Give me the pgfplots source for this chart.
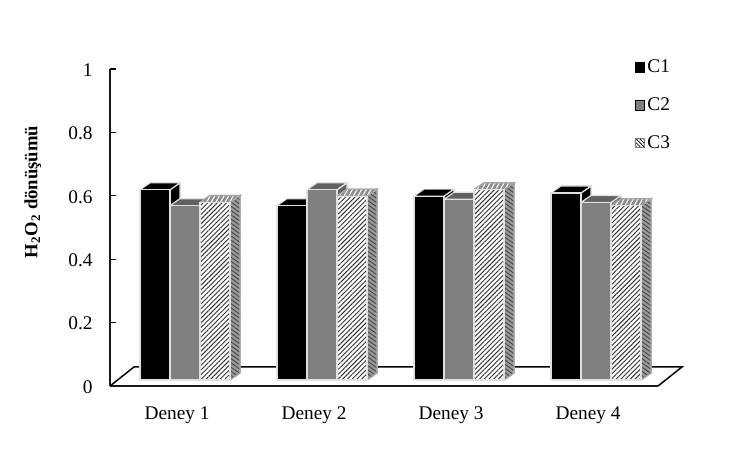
\documentclass[border=0pt]{standalone}
\usepackage{fontspec}
\setmainfont{Liberation Serif}
\usepackage{pgfplots}
\pgfplotsset{compat=1.18}
\usetikzlibrary{patterns.meta}

% depth of the 3D effect and base of the bars, in axis units
\def\barw{0.219}
\def\depx{0.073}
\def\depy{0.022}
\def\basey{0.019}

\tikzset{
  edge/.style={draw=black!12, line width=0.9pt},
  c1front/.style={edge, fill=black},
  c1top/.style={edge, fill=black},
  c1side/.style={edge, fill=black},
  c2front/.style={edge, fill=black!50},
  c2top/.style={edge, fill=black!62},
  c2side/.style={edge, fill=black!62},
  c3front/.style={edge, fill=white, postaction={pattern={Lines[angle=45,distance=2.5pt,line width=0.7pt]}, pattern color=black!80}},
  c3top/.style={edge, draw=black!35, fill=black!45, postaction={pattern={Lines[angle=60,distance=3pt,line width=0.8pt]}, pattern color=white}},
  c3side/.style={edge, draw=black!35, fill=black!40, postaction={pattern={Lines[angle=-35,distance=2.6pt,line width=0.65pt]}, pattern color=black!75}},
}

% #1 left edge of the front face, #2 value, #3 series style prefix
\newcommand{\threedbar}[3]{%
  \pgfmathsetmacro{\xa}{#1}%
  \pgfmathsetmacro{\xb}{#1+\barw}%
  \pgfmathsetmacro{\xc}{#1+\barw+\depx}%
  \pgfmathsetmacro{\xd}{#1+\depx}%
  \pgfmathsetmacro{\yt}{\basey+#2}%
  \pgfmathsetmacro{\yu}{\basey+#2+\depy}%
  \pgfmathsetmacro{\yv}{\basey+\depy}%
  \addplot[forget plot, #3side] coordinates {(\xb,\basey) (\xc,\yv) (\xc,\yu) (\xb,\yt) (\xb,\basey)};
  \addplot[forget plot, #3top] coordinates {(\xa,\yt) (\xb,\yt) (\xc,\yu) (\xd,\yu) (\xa,\yt)};
  \addplot[forget plot, #3front] coordinates {(\xa,\basey) (\xb,\basey) (\xb,\yt) (\xa,\yt) (\xa,\basey)};
}

\begin{document}
\begin{tikzpicture}[x=1pt,y=1pt]
\useasboundingbox (0,0) rectangle (557.25,354);
\begin{axis}[
    at={(82.5pt,64.5pt)},
    anchor=south west,
    scale only axis,
    width=411pt,
    height=237.75pt,
    xmin=0, xmax=4,
    ymin=0, ymax=1,
    clip=false,
    axis lines=left,
    axis line style={-, line width=1.1pt, black!90},
    xtick={0.5,1.5,2.5,3.5},
    xticklabels={Deney 1,Deney 2,Deney 3,Deney 4},
    ytick={0,0.2,0.4,0.6,0.8,1},
    tick align=inside,
    major tick length=4.5pt,
    x tick style={draw=none},
    y tick style={line width=0.9pt, black},
    tick label style={font=\fontsize{14.5}{16}\selectfont},
    xticklabel style={yshift=-11.75pt, xshift=-1pt},
    yticklabel style={xshift=-9.5pt, yshift=-0.75pt},
    /pgf/number format/assume math mode=true,
    ylabel={\textbf{H\textsubscript{2}O\textsubscript{2} dönüşümü}},
    ylabel style={font=\fontsize{14}{16}\selectfont, at={(axis description cs:-0.141,0.612)}, anchor=center, rotate=0},
    legend image code/.code={\draw[#1] (-3pt,-3.5pt) rectangle (4pt,3.5pt);},
    legend style={at={(axis description cs:0.9495,1.046)}, anchor=north west, draw=none, fill=none,
      row sep=13.2pt, font=\fontsize{14.5}{16}\selectfont},
    legend cell align=left,
]

% floor
\addplot[forget plot, line width=1.1pt, black] coordinates {(0,0) (0.175,0.06) (4.175,0.06) (4,0)};

% Deney 1
\threedbar{0.219}{0.60}{c1}
\threedbar{0.438}{0.55}{c2}
\threedbar{0.657}{0.56}{c3}
% Deney 2
\threedbar{1.219}{0.55}{c1}
\threedbar{1.438}{0.60}{c2}
\threedbar{1.657}{0.58}{c3}
% Deney 3
\threedbar{2.219}{0.58}{c1}
\threedbar{2.438}{0.57}{c2}
\threedbar{2.657}{0.60}{c3}
% Deney 4
\threedbar{3.219}{0.59}{c1}
\threedbar{3.438}{0.56}{c2}
\threedbar{3.657}{0.55}{c3}

\addlegendimage{fill=black, draw=none}
\addlegendentry{C1}
\addlegendimage{fill=black!50, draw=none}
\addlegendentry{C2}
\addlegendimage{draw=black!50, fill=white, pattern={Lines[angle=-45,distance=2pt,line width=0.6pt]}}
\addlegendentry{C3}
\end{axis}
\end{tikzpicture}
\end{document}
